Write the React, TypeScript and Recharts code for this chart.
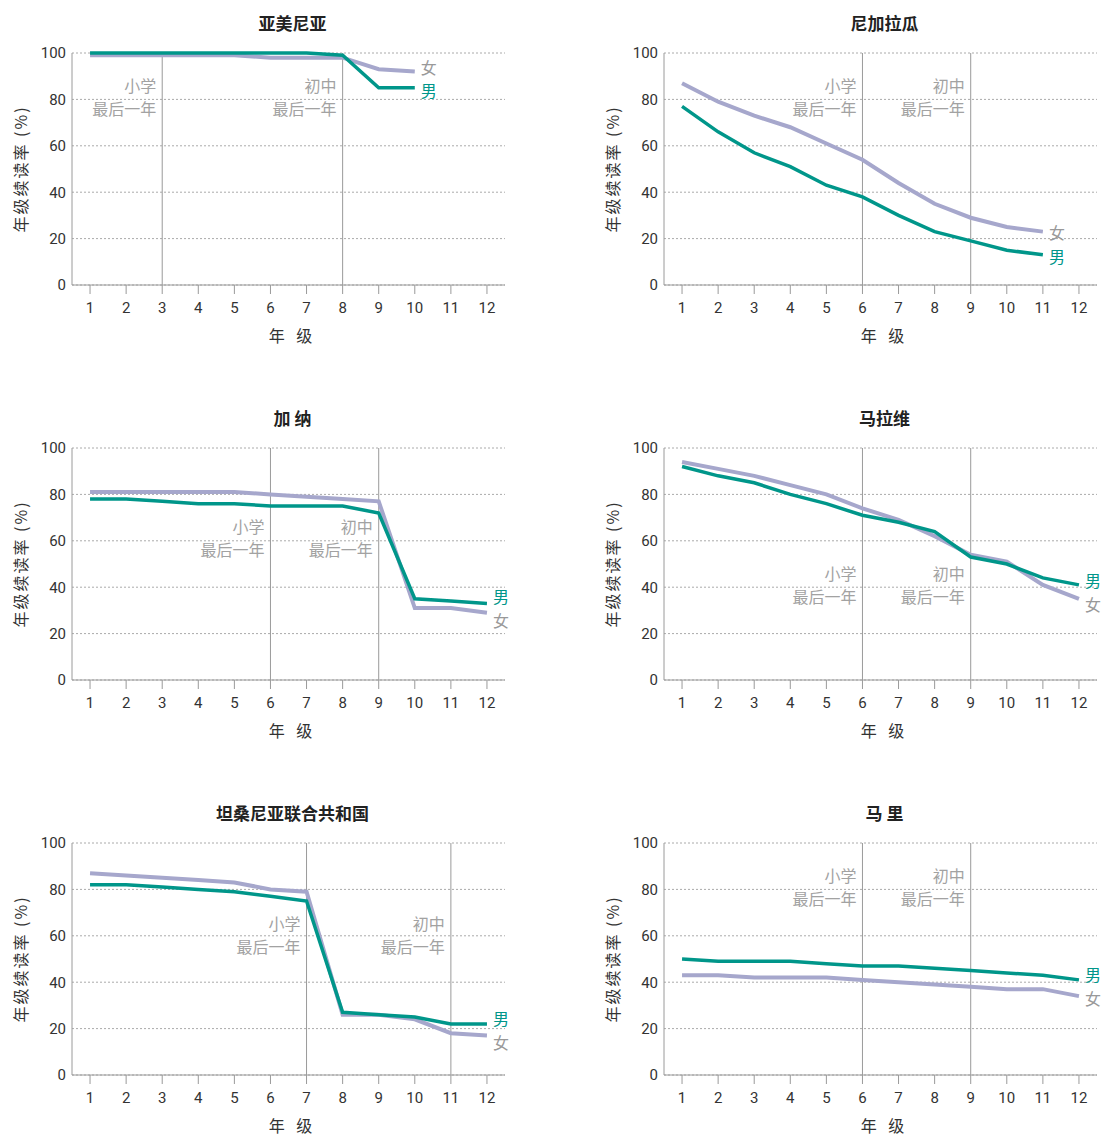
import React from "react";
import {
  LineChart,
  Line,
  XAxis,
  YAxis,
  CartesianGrid,
  ReferenceLine,
} from "recharts";

const GRADES = [1, 2, 3, 4, 5, 6, 7, 8, 9, 10, 11, 12];
const PCT_TICKS = [0, 20, 40, 60, 80, 100];

// 亚美尼亚
const armeniaMale = [100, 100, 100, 100, 100, 100, 100, 99, 85, 85];
const armeniaFemale = [99, 99, 99, 99, 99, 98, 98, 98, 93, 92];
// 尼加拉瓜
const nicaraguaMale = [77, 66, 57, 51, 43, 38, 30, 23, 19, 15, 13];
const nicaraguaFemale = [87, 79, 73, 68, 61, 54, 44, 35, 29, 25, 23];
// 加纳
const ghanaMale = [78, 78, 77, 76, 76, 75, 75, 75, 72, 35, 34, 33];
const ghanaFemale = [81, 81, 81, 81, 81, 80, 79, 78, 77, 31, 31, 29];
// 马拉维
const malawiMale = [92, 88, 85, 80, 76, 71, 68, 64, 53, 50, 44, 41];
const malawiFemale = [94, 91, 88, 84, 80, 74, 69, 62, 54, 51, 41, 35];
// 坦桑尼亚联合共和国
const tanzaniaMale = [82, 82, 81, 80, 79, 77, 75, 27, 26, 25, 22, 22];
const tanzaniaFemale = [87, 86, 85, 84, 83, 80, 79, 26, 26, 24, 18, 17];
// 马里
const maliMale = [50, 49, 49, 49, 48, 47, 47, 46, 45, 44, 43, 41];
const maliFemale = [43, 43, 42, 42, 42, 41, 40, 39, 38, 37, 37, 34];

const TEAL = "#00968a";
const LAVENDER = "#a6a7cc";
const NOTE_GREY = "#a2a2a2";
const AXIS_GREY = "#9a9a9a";
const TEXT = "#333333";
const CJK = "'Noto Sans CJK SC', 'Noto Sans', sans-serif";
const NUM = "'Liberation Sans Narrow', 'Roboto', sans-serif";

interface PanelProps {
  title: string;
  male: number[];
  female: number[];
  primaryEnd: number;
  lowerSecEnd: number;
  noteTop: number;
  maleDy: number;
  femaleDy: number;
}

function endLabel(text: string, color: string, dy: number, lastIndex: number) {
  return (props: any) => {
    if (props.index !== lastIndex) return <g />;
    return (
      <text
        x={props.x + 6}
        y={props.y + dy}
        fill={color}
        fontSize={16}
        fontFamily={CJK}
        dominantBaseline="central"
      >
        {text}
      </text>
    );
  };
}

function note(first: string, top: number) {
  return (props: any) => {
    const vb = props.viewBox || {};
    const x = vb.x - 6;
    return (
      <g>
        <text x={x} y={vb.y + top - 2} textAnchor="end" dominantBaseline="central" fill={NOTE_GREY} fontSize={16} fontFamily={CJK}>
          {first}
        </text>
        <text x={x} y={vb.y + top + 21} textAnchor="end" dominantBaseline="central" fill={NOTE_GREY} fontSize={16} fontFamily={CJK}>
          最后一年
        </text>
      </g>
    );
  };
}

function Panel({ title, male, female, primaryEnd, lowerSecEnd, noteTop, maleDy, femaleDy }: PanelProps) {
  const data = male.map((m, i) => ({ grade: GRADES[i], male: m, female: female[i] }));
  const last = data.length - 1;

  return (
    <div style={{ position: "relative", width: 520, height: 395 }}>
      <div
        style={{
          position: "absolute",
          left: 76,
          width: 433,
          top: 10,
          textAlign: "center",
          fontFamily: CJK,
          fontWeight: 700,
          fontSize: 17,
          color: "#222",
        }}
      >
        {title}
      </div>
      <LineChart width={520} height={395} data={data} margin={{ top: 53, right: 15, left: 0, bottom: 0 }}>
        <CartesianGrid vertical={false} stroke="#aaaaaa" strokeDasharray="2 2" />
        <XAxis
          dataKey="grade"
          type="number"
          domain={[0.5, 12.5]}
          ticks={GRADES}
          interval={0}
          height={110}
          tickSize={9}
          tickMargin={8}
          stroke={AXIS_GREY}
          tick={{ fill: TEXT, fontSize: 15, fontFamily: NUM }}
          label={(p: any) => {
            const vb = p.viewBox || {};
            return (
              <text x={vb.x + vb.width / 2 + 4} y={vb.y + 50} textAnchor="middle" dominantBaseline="central" fill={TEXT} fontSize={16} fontFamily={CJK} letterSpacing={4}>
                年 级
              </text>
            );
          }}
        />
        <YAxis
          type="number"
          domain={[0, 100]}
          ticks={PCT_TICKS}
          width={72}
          tickLine={false}
          tickSize={4}
          stroke={AXIS_GREY}
          tick={{ fill: TEXT, fontSize: 15, fontFamily: NUM }}
          label={(p: any) => {
            const vb = p.viewBox || {};
            const cx = 20;
            const cy = vb.y + vb.height / 2;
            return (
              <text x={cx} y={cy} transform={`rotate(-90 ${cx} ${cy})`} textAnchor="middle" dominantBaseline="central" fill={TEXT} fontSize={16} fontFamily={CJK} letterSpacing={2}>
                年级续读率 (%)
              </text>
            );
          }}
        />
        <ReferenceLine x={primaryEnd} stroke={AXIS_GREY} strokeWidth={1} label={note("小学", noteTop)} />
        <ReferenceLine x={lowerSecEnd} stroke={AXIS_GREY} strokeWidth={1} label={note("初中", noteTop)} />
        <Line
          dataKey="female"
          stroke={LAVENDER}
          strokeWidth={4}
          dot={false}
          activeDot={false}
          type="linear"
          isAnimationActive={false}
          label={endLabel("女", "#999999", femaleDy, last)}
        />
        <Line
          dataKey="male"
          stroke={TEAL}
          strokeWidth={3.5}
          dot={false}
          activeDot={false}
          type="linear"
          isAnimationActive={false}
          label={endLabel("男", TEAL, maleDy, last)}
        />
      </LineChart>
    </div>
  );
}

export default function App() {
  const cell = (left: number, top: number, node: React.ReactNode) => (
    <div style={{ position: "absolute", left, top }}>{node}</div>
  );
  return (
    <div style={{ position: "absolute", left: 0, top: 0, width: 1105, height: 1136, background: "#fff", overflow: "hidden" }}>
      {cell(0, 0,
        <Panel title="亚美尼亚" male={armeniaMale} female={armeniaFemale} primaryEnd={3} lowerSecEnd={8} noteTop={34} maleDy={2} femaleDy={-5} />
      )}
      {cell(592, 0,
        <Panel title="尼加拉瓜" male={nicaraguaMale} female={nicaraguaFemale} primaryEnd={6} lowerSecEnd={9} noteTop={34} maleDy={1} femaleDy={0} />
      )}
      {cell(0, 395,
        <Panel title="加 纳" male={ghanaMale} female={ghanaFemale} primaryEnd={6} lowerSecEnd={9} noteTop={80} maleDy={-7} femaleDy={7} />
      )}
      {cell(592, 395,
        <Panel title="马拉维" male={malawiMale} female={malawiFemale} primaryEnd={6} lowerSecEnd={9} noteTop={127} maleDy={-5} femaleDy={5} />
      )}
      {cell(0, 790,
        <Panel title="坦桑尼亚联合共和国" male={tanzaniaMale} female={tanzaniaFemale} primaryEnd={7} lowerSecEnd={11} noteTop={82} maleDy={-6} femaleDy={6} />
      )}
      {cell(592, 790,
        <Panel title="马 里" male={maliMale} female={maliFemale} primaryEnd={6} lowerSecEnd={9} noteTop={34} maleDy={-6} femaleDy={2} />
      )}
    </div>
  );
}
